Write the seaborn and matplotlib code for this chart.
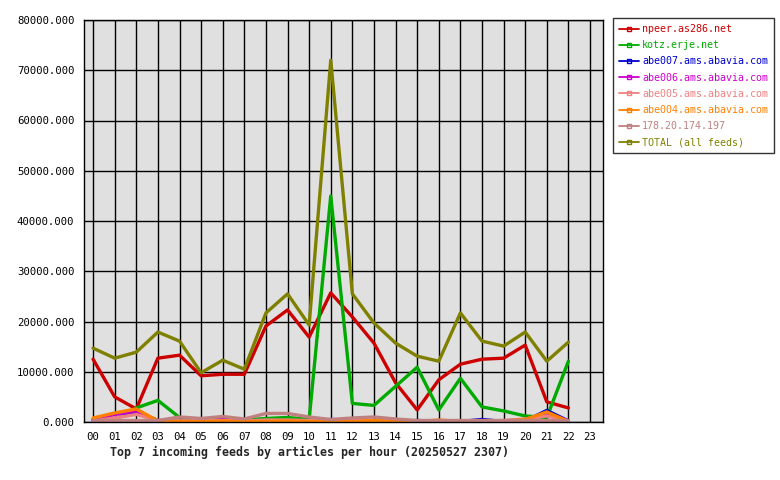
import pandas as pd
import numpy as np
import matplotlib
matplotlib.use("Agg")
import matplotlib.pyplot as plt
import seaborn as sns
from matplotlib.lines import Line2D

hours = ["00", "01", "02", "03", "04", "05", "06", "07", "08", "09", "10", "11",
         "12", "13", "14", "15", "16", "17", "18", "19", "20", "21", "22", "23"]

feeds = ["npeer.as286.net", "kotz.erje.net", "abe007.ams.abavia.com",
         "abe006.ams.abavia.com", "abe005.ams.abavia.com", "abe004.ams.abavia.com",
         "178.20.174.197", "TOTAL (all feeds)"]

colors = ["#cc0000", "#00aa00", "#0000cc", "#cc00cc", "#f08080", "#ff8000",
          "#c08080", "#808000"]

npeer = [12500, 5000, 2600, 12700, 13300, 9200, 9500, 9500, 19100, 22300, 16900, 25700,
         20900, 15700, 7800, 2400, 8400, 11500, 12500, 12700, 15300, 4000, 2800]
kotz = [300, 400, 2800, 4300, 900, 500, 500, 400, 700, 900, 500, 45000,
        3700, 3300, 7100, 10900, 2400, 8700, 3000, 2200, 1200, 900, 12100]
abe007 = [500, 1600, 1900, 300, 100, 100, 100, 100, 200, 200, 200, 500,
          400, 100, 100, 300, 100, 100, 500, 100, 200, 2300, 200]
abe006 = [300, 1500, 2200, 300, 100, 100, 500, 100, 200, 200, 200, 100,
          100, 100, 100, 100, 100, 100, 100, 100, 300, 1800, 200]
abe005 = [200, 800, 1500, 300, 200, 300, 300, 200, 400, 400, 300, 200,
          300, 300, 200, 200, 200, 200, 200, 300, 600, 1200, 200]
abe004 = [800, 1800, 2600, 200, 100, 100, 200, 100, 100, 200, 100, 100,
          100, 300, 100, 100, 400, 100, 100, 200, 500, 2000, 100]
ip178 = [300, 300, 300, 300, 1000, 700, 1100, 600, 1700, 1700, 1000, 500,
         800, 1000, 600, 300, 300, 300, 300, 300, 300, 300, 300]
total = [14700, 12700, 13900, 17900, 16100, 9800, 12300, 10500, 21700, 25500, 19300, 72000,
         25500, 19700, 15700, 13100, 12100, 21700, 16100, 15100, 17900, 12100, 15900]

series = [npeer, kotz, abe007, abe006, abe005, abe004, ip178, total]

rows = []
for name, vals in zip(feeds, series):
    for h, v in enumerate(vals):
        rows.append({"hour": h, "articles": v, "feed": name})
df = pd.DataFrame(rows)

sns.set_style("white")
plt.rcParams["font.family"] = ["DejaVu Sans Mono"]

fig = plt.figure(figsize=(7.8, 4.8), dpi=100)
ax = fig.add_axes([84 / 780, 58 / 480, 519 / 780, 402 / 480])
ax.set_facecolor("#e0e0e0")

sns.lineplot(data=df, x="hour", y="articles", hue="feed", hue_order=feeds,
             palette=dict(zip(feeds, colors)), linewidth=2.4, legend=False, ax=ax)

ax.set_xlim(-0.42, 23.6)
ax.set_ylim(0, 80000)
ax.set_xticks(range(24))
ax.set_xticklabels(hours)
ax.set_yticks(np.arange(0, 80001, 10000))
ax.set_yticklabels(["%.3f" % v for v in np.arange(0, 80001, 10000)])
ax.grid(True, color="black", linewidth=1.0)
ax.set_axisbelow(True)
for s in ax.spines.values():
    s.set_color("black")
    s.set_linewidth(1.0)
ax.tick_params(axis="both", direction="out", length=4, width=1, color="black",
               labelsize=7.7, labelcolor="black", pad=3)
ax.set_xlabel("")
ax.set_ylabel("")

fig.text(110 / 780, 1 - 452 / 480, "Top 7 incoming feeds by articles per hour (20250527 2307)",
         fontsize=8.4, fontweight="bold", va="center", ha="left")

handles = [Line2D([0], [0], color=c, linewidth=1.3, marker="s", markersize=2.5,
                  markerfacecolor="none", markeredgecolor=c) for c in colors]
leg = fig.legend(handles, feeds, loc="upper left", bbox_to_anchor=(613 / 780, 1 - 18 / 480),
                 frameon=True, fontsize=7.2, handlelength=2.0, handletextpad=0.3,
                 labelspacing=0.62, borderpad=0.6, borderaxespad=0, fancybox=False)
leg.get_frame().set_edgecolor("black")
leg.get_frame().set_linewidth(1)
for t, c in zip(leg.get_texts(), colors):
    t.set_color(c)

fig.savefig("out.png", dpi=100)
